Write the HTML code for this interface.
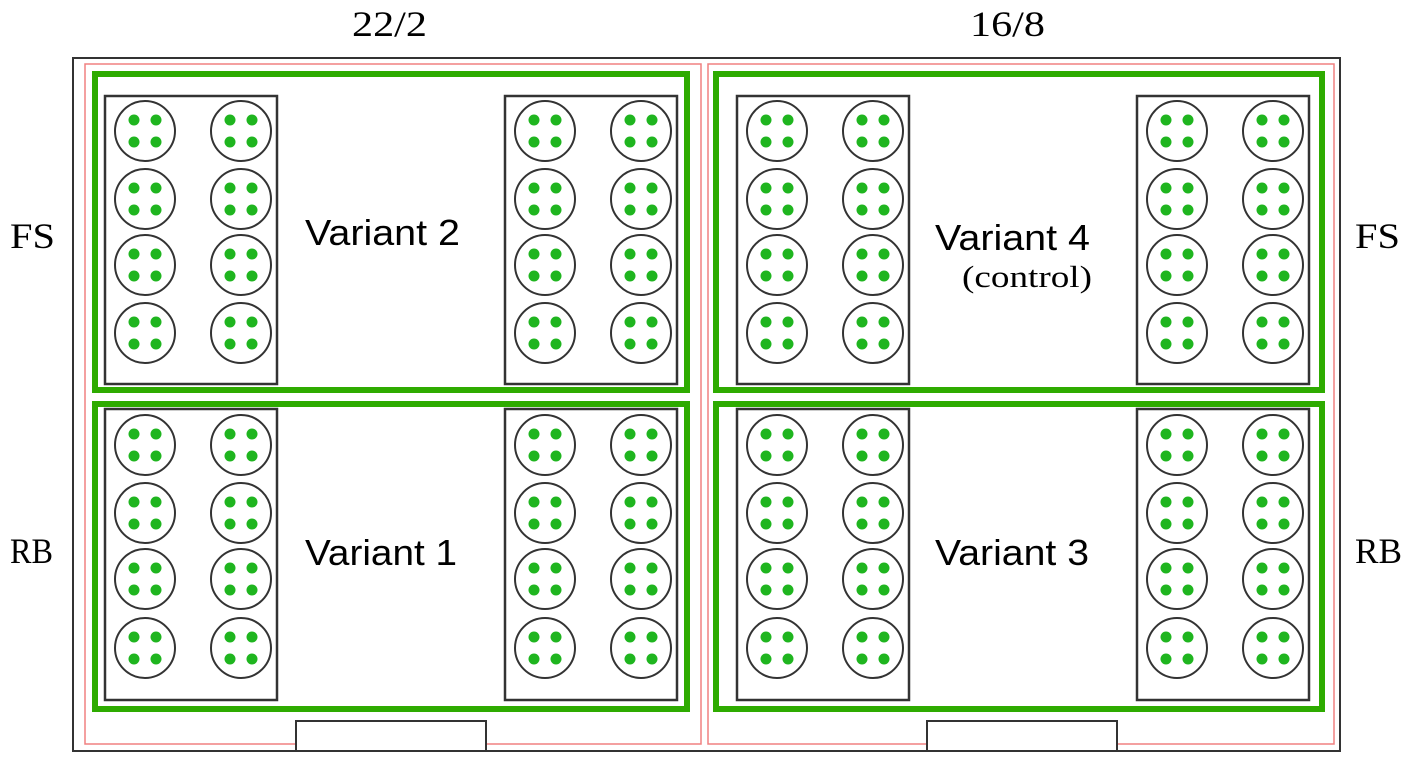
<!DOCTYPE html>
<html><head><meta charset="utf-8"><style>
html,body{margin:0;padding:0;background:#fff;}
svg{display:block}
.s{font-family:"Liberation Sans","DejaVu Sans",sans-serif;font-size:36px;fill:#000}
.r{font-family:"Liberation Serif",serif;font-size:36px;fill:#000}
</style></head><body>
<svg id="g" width="1413" height="769" viewBox="0 0 1413 769" xmlns="http://www.w3.org/2000/svg">
<rect x="73" y="58" width="1267" height="693" fill="none" stroke="#333" stroke-width="2"/>
<rect x="85" y="64" width="616" height="680" fill="none" stroke="#f08080" stroke-width="1.5"/>
<rect x="708" y="64" width="626" height="680" fill="none" stroke="#f08080" stroke-width="1.5"/>
<rect x="296" y="721" width="190" height="30" fill="#fff" stroke="#333" stroke-width="2"/>
<rect x="927" y="721" width="190" height="30" fill="#fff" stroke="#333" stroke-width="2"/>
<g id="racks"></g>
<rect x="95" y="74" width="592" height="316" fill="none" stroke="#2eab00" stroke-width="6"/>
<rect x="95" y="404" width="592" height="305" fill="none" stroke="#2eab00" stroke-width="6"/>
<rect x="716" y="74" width="606" height="316" fill="none" stroke="#2eab00" stroke-width="6"/>
<rect x="716" y="404" width="606" height="305" fill="none" stroke="#2eab00" stroke-width="6"/>
<text class="r" x="352" y="36" textLength="75" lengthAdjust="spacingAndGlyphs">22/2</text>
<text class="r" x="970" y="36" textLength="75" lengthAdjust="spacingAndGlyphs">16/8</text>
<text class="r" x="10" y="248" textLength="45" lengthAdjust="spacingAndGlyphs">FS</text>
<text class="r" x="10" y="563" textLength="43" lengthAdjust="spacingAndGlyphs">RB</text>
<text class="r" x="1355" y="248" textLength="45" lengthAdjust="spacingAndGlyphs">FS</text>
<text class="r" x="1355" y="563" textLength="47" lengthAdjust="spacingAndGlyphs">RB</text>
<text class="s" x="305" y="245" textLength="155" lengthAdjust="spacingAndGlyphs">Variant 2</text>
<text class="s" x="305" y="565" textLength="152" lengthAdjust="spacingAndGlyphs">Variant 1</text>
<text class="s" x="935" y="250" textLength="155" lengthAdjust="spacingAndGlyphs">Variant 4</text>
<text class="s" x="935" y="565" textLength="154" lengthAdjust="spacingAndGlyphs">Variant 3</text>
<text class="r" x="962" y="287" style="font-size:31px" textLength="130" lengthAdjust="spacingAndGlyphs">(control)</text>
</svg>
<script>
var g=document.getElementById('racks'),h='';
var xs=[105,505,737,1137];
var rows=[[96,384,[131,199,265,333]],[409,700,[445,513,579,648]]];
xs.forEach(function(x){rows.forEach(function(r){
h+='<rect x="'+x+'" y="'+r[0]+'" width="172" height="'+(r[1]-r[0])+'" fill="#fff" stroke="#333" stroke-width="2.5"/>';
[x+40,x+136].forEach(function(cx){r[2].forEach(function(cy){
h+='<circle cx="'+cx+'" cy="'+cy+'" r="30" fill="#fff" stroke="#333" stroke-width="2"/>';
[[-11,-11],[11,-11],[-11,11],[11,11]].forEach(function(d){h+='<circle cx="'+(cx+d[0])+'" cy="'+(cy+d[1])+'" r="5.5" fill="#1fb51f"/>';});
});});
});});
g.innerHTML=h;
</script>
</body></html>
